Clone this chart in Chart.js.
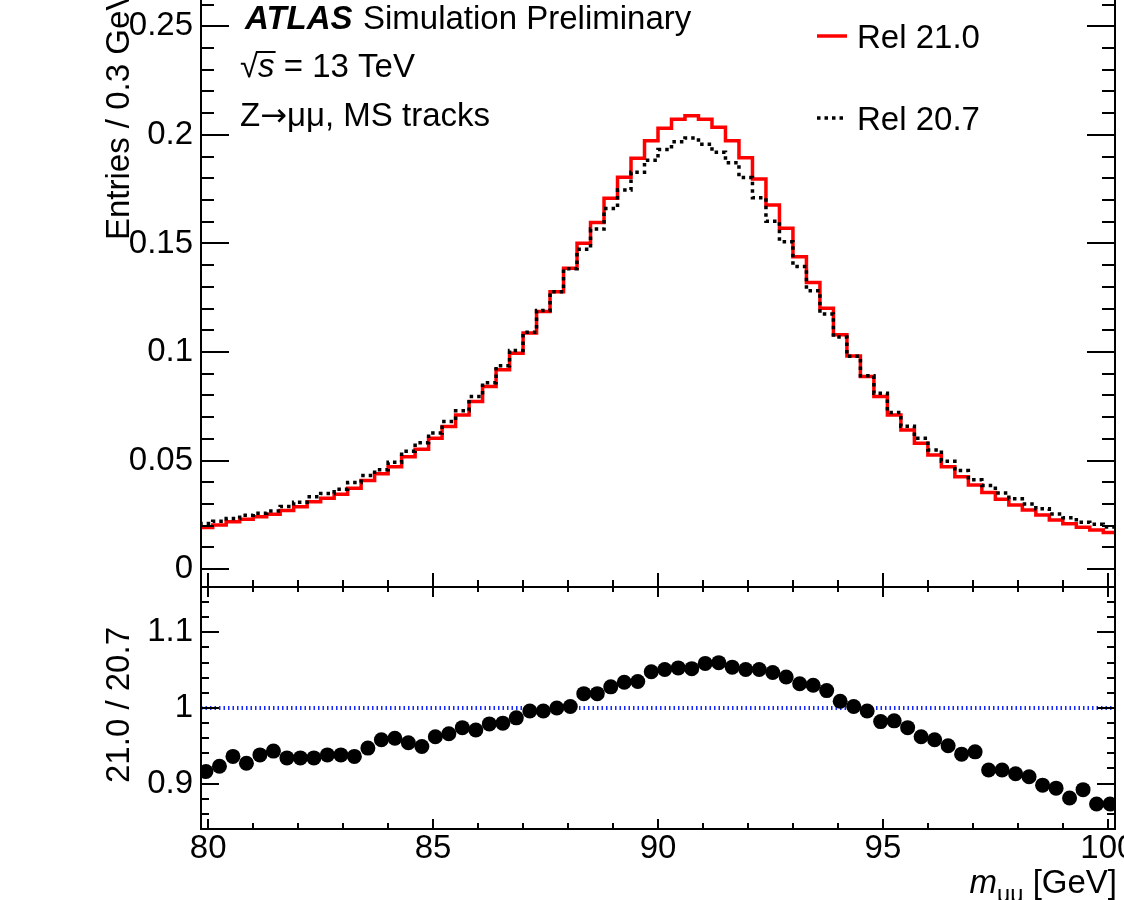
<!DOCTYPE html>
<html>
<head>
<meta charset="utf-8">
<script src="https://cdn.jsdelivr.net/npm/chart.js@4.4.0/dist/chart.umd.min.js"></script>
<style>
  html, body { margin: 0; padding: 0; background: #fff; overflow: hidden; }
  body { width: 1124px; height: 900px; position: relative; }
  #top { position: absolute; left: 0; top: -40px; }
  #ratio { position: absolute; left: 0; top: 587px; }
</style>
</head>
<body>
<canvas id="top" width="1124" height="627"></canvas>
<canvas id="ratio" width="1124" height="313"></canvas>
<script>
// bin centres of the m_mumu histogram (0.3 GeV bins)
const binCenters = [
  79.95, 80.25, 80.55, 80.85, 81.15, 81.45, 81.75, 82.05, 82.35, 82.65,
  82.95, 83.25, 83.55, 83.85, 84.15, 84.45, 84.75, 85.05, 85.35, 85.65,
  85.95, 86.25, 86.55, 86.85, 87.15, 87.45, 87.75, 88.05, 88.35, 88.65,
  88.95, 89.25, 89.55, 89.85, 90.15, 90.45, 90.75, 91.05, 91.35, 91.65,
  91.95, 92.25, 92.55, 92.85, 93.15, 93.45, 93.75, 94.05, 94.35, 94.65,
  94.95, 95.25, 95.55, 95.85, 96.15, 96.45, 96.75, 97.05, 97.35, 97.65,
  97.95, 98.25, 98.55, 98.85, 99.15, 99.45, 99.75, 100.05
];
const rel210 = [
  0.0192, 0.0204, 0.0218, 0.0230, 0.0242, 0.0253, 0.0270, 0.0288, 0.0311, 0.0327,
  0.0345, 0.0373, 0.0408, 0.0439, 0.0472, 0.0518, 0.0552, 0.0603, 0.0657, 0.0710,
  0.0772, 0.0841, 0.0918, 0.0994, 0.1087, 0.1186, 0.1278, 0.1386, 0.1501, 0.1596,
  0.1708, 0.1805, 0.1892, 0.1973, 0.2030, 0.2072, 0.2088, 0.2072, 0.2035, 0.1973,
  0.1895, 0.1797, 0.1677, 0.1570, 0.1439, 0.1320, 0.1202, 0.1079, 0.0982, 0.0887,
  0.0795, 0.0710, 0.0641, 0.0580, 0.0526, 0.0472, 0.0426, 0.0388, 0.0353, 0.0322,
  0.0296, 0.0273, 0.0250, 0.0227, 0.0209, 0.0193, 0.0181, 0.0169
];
const rel207 = [
  0.0210, 0.0221, 0.0233, 0.0248, 0.0258, 0.0268, 0.0289, 0.0308, 0.0333, 0.0349,
  0.0368, 0.0399, 0.0431, 0.0458, 0.0492, 0.0543, 0.0582, 0.0627, 0.0680, 0.0729,
  0.0795, 0.0859, 0.0937, 0.1007, 0.1091, 0.1191, 0.1278, 0.1383, 0.1473, 0.1566,
  0.1661, 0.1746, 0.1828, 0.1883, 0.1932, 0.1968, 0.1985, 0.1957, 0.1920, 0.1872,
  0.1803, 0.1710, 0.1602, 0.1508, 0.1394, 0.1282, 0.1175, 0.1069, 0.0980, 0.0891,
  0.0810, 0.0722, 0.0658, 0.0603, 0.0549, 0.0497, 0.0454, 0.0412, 0.0385, 0.0351,
  0.0324, 0.0300, 0.0278, 0.0254, 0.0237, 0.0216, 0.0207, 0.0194
];
const ratio = [
  0.916, 0.923, 0.936, 0.927, 0.938, 0.943, 0.934, 0.934, 0.934, 0.938,
  0.938, 0.936, 0.947, 0.958, 0.960, 0.954, 0.949, 0.962, 0.966, 0.974,
  0.971, 0.979, 0.980, 0.987, 0.996, 0.996, 1.000, 1.002, 1.019, 1.019,
  1.028, 1.034, 1.035, 1.048, 1.051, 1.053, 1.052, 1.059, 1.060, 1.054,
  1.051, 1.051, 1.047, 1.041, 1.032, 1.030, 1.023, 1.009, 1.002, 0.996,
  0.982, 0.983, 0.974, 0.962, 0.958, 0.950, 0.939, 0.942, 0.918, 0.918,
  0.913, 0.909, 0.898, 0.894, 0.881, 0.892, 0.873, 0.873
];
const xTicks = [80, 85, 90, 95, 100];
const yTopTicks = [0, 0.05, 0.1, 0.15, 0.2, 0.25];
const yRatioTicks = [0.9, 1, 1.1];
const refLine = [1, 1];

const BIN_W = 0.3;
const X_MIN = 79.84, X_MAX = 100.16;
const Y_TOP_MIN = -0.0082, Y_TOP_MAX = 0.2805;
const Y_RAT_MIN = 0.84, Y_RAT_MAX = 1.16;
const OFF = 40; // top canvas sits 40px above the page

const FONT = '"Liberation Sans", Arial, Helvetica, sans-serif';
Chart.defaults.font.family = FONT;
Chart.defaults.font.size = 33;
Chart.defaults.color = '#000';

function stepPoints(vals) {
  const n = binCenters.length;
  const pts = [{ x: binCenters[0] - BIN_W / 2, y: vals[0] }];
  for (let i = 0; i < n; i++) pts.push({ x: binCenters[i], y: vals[i] });
  pts.push({ x: binCenters[n - 1] + BIN_W / 2, y: vals[n - 1] });
  return pts;
}

function fmt(v) {
  return String(parseFloat(v.toFixed(2)));
}

function noPad(s) {
  s.paddingLeft = 0; s.paddingRight = 0; s.paddingTop = 0; s.paddingBottom = 0;
}

// ROOT style frame with inward ticks
function frameTicks(o) {
  return {
    id: 'frameTicks',
    afterDatasetsDraw(chart) {
      const { ctx, chartArea: a, scales: { x, y } } = chart;
      ctx.save();
      ctx.strokeStyle = '#000';
      ctx.lineWidth = 2;
      ctx.beginPath();
      for (let v = Math.ceil(x.min); v <= x.max; v++) {
        const px = Math.round(x.getPixelForValue(v));
        const major = v % 5 === 0;
        if (o.xBottom) {
          const l = major ? o.xBottom[0] : o.xBottom[1];
          ctx.moveTo(px, a.bottom); ctx.lineTo(px, a.bottom - l);
        }
        if (o.xTop) {
          const l = major ? o.xTop[0] : o.xTop[1];
          ctx.moveTo(px, a.top); ctx.lineTo(px, a.top + l);
        }
      }
      const k0 = Math.ceil(y.min / o.yMinor - 1e-6), k1 = Math.floor(y.max / o.yMinor + 1e-6);
      for (let k = k0; k <= k1; k++) {
        const py = Math.round(y.getPixelForValue(k * o.yMinor));
        const l = k % 5 === 0 ? o.yLen[0] : o.yLen[1];
        ctx.moveTo(a.left, py); ctx.lineTo(a.left + l, py);
        ctx.moveTo(a.right, py); ctx.lineTo(a.right - l, py);
      }
      ctx.stroke();
      ctx.strokeRect(a.left, a.top, a.right - a.left, a.bottom - a.top);
      ctx.restore();
    }
  };
}

const topText = {
  id: 'topText',
  afterDraw(chart) {
    const ctx = chart.ctx;
    ctx.save();
    ctx.fillStyle = '#000';
    ctx.textBaseline = 'alphabetic';
    ctx.textAlign = 'left';

    ctx.font = 'italic bold 33px ' + FONT;
    ctx.fillText('ATLAS', 245, 29 + OFF);
    ctx.font = '33px ' + FONT;
    ctx.fillText('Simulation Preliminary', 363, 29 + OFF);

    // sqrt(s) = 13 TeV
    let x = 240;
    ctx.font = '33px ' + FONT;
    ctx.fillText('\u221A', x, 77 + OFF);
    x += ctx.measureText('\u221A').width;
    ctx.font = 'italic 33px ' + FONT;
    ctx.fillText('s', x, 77 + OFF);
    const ws = ctx.measureText('s').width;
    ctx.strokeStyle = '#000';
    ctx.lineWidth = 2;
    ctx.beginPath();
    ctx.moveTo(x - 2, 52 + OFF); ctx.lineTo(x + ws + 1, 52 + OFF);
    ctx.stroke();
    x += ws;
    ctx.font = '33px ' + FONT;
    ctx.fillText(' = 13 TeV', x, 77 + OFF);

    // Z -> mu mu, MS tracks (long arrow from DejaVu)
    x = 240;
    ctx.fillText('Z', x, 126 + OFF);
    x += ctx.measureText('Z').width;
    ctx.font = '32px "DejaVu Sans", ' + FONT;
    ctx.fillText('\u2192', x, 126 + OFF);
    x += ctx.measureText('\u2192').width;
    ctx.font = '33px ' + FONT;
    ctx.fillText('\u03BC\u03BC, MS tracks', x, 126 + OFF);

    // legend
    ctx.lineWidth = 3.5;
    ctx.strokeStyle = '#ff0000';
    ctx.beginPath();
    ctx.moveTo(817, 36 + OFF); ctx.lineTo(847, 36 + OFF);
    ctx.stroke();
    ctx.strokeStyle = '#000';
    ctx.setLineDash([3.5, 4]);
    ctx.beginPath();
    ctx.moveTo(817, 118 + OFF); ctx.lineTo(847, 118 + OFF);
    ctx.stroke();
    ctx.setLineDash([]);
    ctx.fillText('Rel 21.0', 857, 48 + OFF);
    ctx.fillText('Rel 20.7', 857, 130 + OFF);

    // y title
    ctx.translate(129, 240 + OFF);
    ctx.rotate(-Math.PI / 2);
    ctx.fillText('Entries / 0.3 GeV', 0, 0);
    ctx.restore();
  }
};

const ratioText = {
  id: 'ratioText',
  afterDraw(chart) {
    const ctx = chart.ctx;
    ctx.save();
    ctx.fillStyle = '#000';
    ctx.textBaseline = 'alphabetic';

    // x title: m_mumu [GeV], right aligned
    const base = 306;
    ctx.font = '33px ' + FONT;
    const w1 = ctx.measureText(' [GeV]').width;
    ctx.font = '23px ' + FONT;
    const w2 = ctx.measureText('\u03BC\u03BC').width;
    ctx.font = 'italic 33px ' + FONT;
    const w3 = ctx.measureText('m').width;
    let x = 1117 - w1 - w2 - w3;
    ctx.textAlign = 'left';
    ctx.fillText('m', x, base);
    x += w3;
    ctx.font = '23px ' + FONT;
    ctx.fillText('\u03BC\u03BC', x, base + 9);
    x += w2;
    ctx.font = '33px ' + FONT;
    ctx.fillText(' [GeV]', x, base);

    // y title
    ctx.translate(129, 118);
    ctx.rotate(-Math.PI / 2);
    ctx.textAlign = 'center';
    ctx.fillText('21.0 / 20.7', 0, 0);
    ctx.restore();
  }
};

const common = {
  animation: false,
  responsive: false,
  devicePixelRatio: 1,
  layout: { autoPadding: false, padding: { left: 0, right: 9, top: 0, bottom: 0 } },
  plugins: { legend: { display: false }, tooltip: { enabled: false } }
};

new Chart(document.getElementById('top'), {
  type: 'line',
  data: {
    datasets: [
      {
        label: 'Rel 20.7',
        data: stepPoints(rel207),
        stepped: 'middle',
        borderColor: '#000',
        borderWidth: 3.5,
        borderDash: [3.5, 4],
        pointRadius: 0,
        fill: false,
        clip: 0,
        order: 0
      },
      {
        label: 'Rel 21.0',
        data: stepPoints(rel210),
        stepped: 'middle',
        borderColor: '#ff0000',
        borderWidth: 3.5,
        pointRadius: 0,
        fill: false,
        clip: 0,
        order: 1
      }
    ]
  },
  options: {
    ...common,
    scales: {
      x: {
        type: 'linear', min: X_MIN, max: X_MAX,
        ticks: { display: false },
        grid: { display: false, drawTicks: false },
        border: { display: false },
        afterFit: s => { s.height = 0; noPad(s); }
      },
      y: {
        type: 'linear', min: Y_TOP_MIN, max: Y_TOP_MAX,
        afterBuildTicks: s => { s.ticks = yTopTicks.map(v => ({ value: v })); },
        ticks: { padding: 8, callback: v => fmt(v) },
        grid: { display: false, drawTicks: false },
        border: { display: false },
        afterFit: s => { s.width = 201; noPad(s); }
      }
    }
  },
  plugins: [frameTicks({ xBottom: [14, 7], yMinor: 0.01, yLen: [28, 13] }), topText]
});

new Chart(document.getElementById('ratio'), {
  type: 'line',
  data: {
    datasets: [
      {
        label: '21.0 / 20.7',
        data: binCenters.map((c, i) => ({ x: c, y: ratio[i] })),
        showLine: false,
        pointRadius: 7.5,
        pointBackgroundColor: '#000',
        pointBorderWidth: 0,
        order: 0
      },
      {
        label: 'ref',
        data: [{ x: X_MIN, y: refLine[0] }, { x: X_MAX, y: refLine[1] }],
        borderColor: 'rgb(20,40,255)',
        borderWidth: 4,
        borderDash: [1.5, 3],
        pointRadius: 0,
        clip: 0,
        order: 1
      }
    ]
  },
  options: {
    ...common,
    scales: {
      x: {
        type: 'linear', min: X_MIN, max: X_MAX,
        afterBuildTicks: s => { s.ticks = xTicks.map(v => ({ value: v })); },
        ticks: { padding: 0, maxRotation: 0, autoSkip: false, callback: v => String(v) },
        grid: { display: false, drawTicks: false },
        border: { display: false },
        afterFit: s => { s.height = 71; noPad(s); }
      },
      y: {
        type: 'linear', min: Y_RAT_MIN, max: Y_RAT_MAX,
        afterBuildTicks: s => { s.ticks = yRatioTicks.map(v => ({ value: v })); },
        ticks: { padding: 8, callback: v => fmt(v) },
        grid: { display: false, drawTicks: false },
        border: { display: false },
        afterFit: s => { s.width = 201; noPad(s); }
      }
    }
  },
  plugins: [frameTicks({ xBottom: [10, 6], xTop: [10, 5], yMinor: 0.02, yLen: [18, 8] }), ratioText]
});
</script>
</body>
</html>
